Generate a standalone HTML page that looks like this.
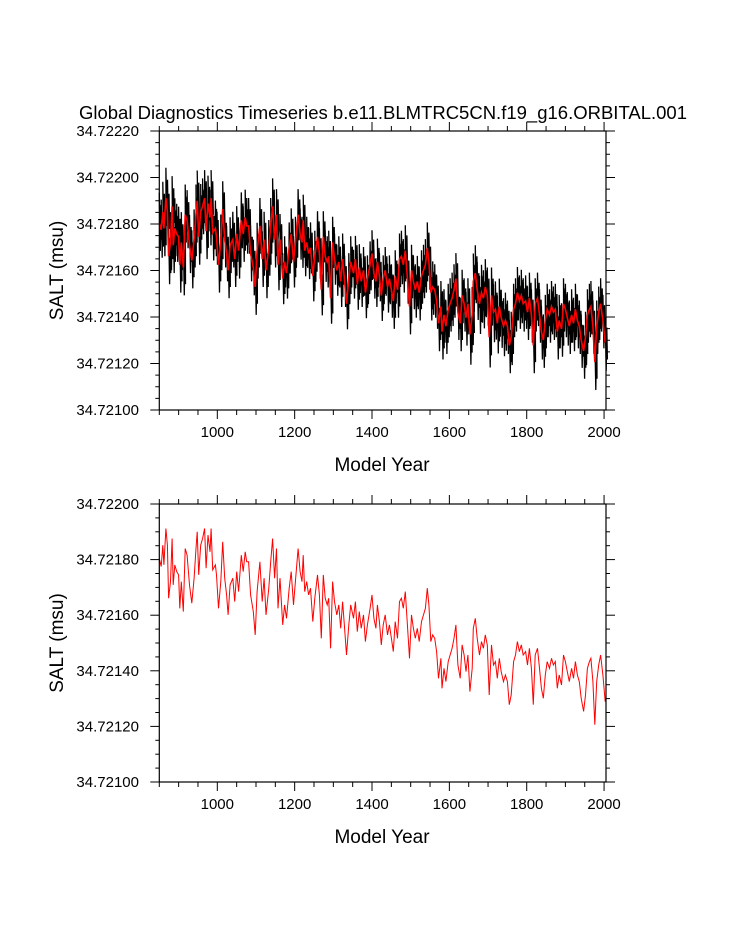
<!DOCTYPE html>
<html><head><meta charset="utf-8"><style>
html,body{margin:0;padding:0;background:#fff;}
svg{display:block;font-family:"Liberation Sans",Arial,sans-serif;}
</style></head><body>
<svg id="chart" width="733" height="945" viewBox="0 0 733 945" xmlns="http://www.w3.org/2000/svg">
<text x="383" y="119" font-size="18.5" text-anchor="middle">Global Diagnostics Timeseries b.e11.BLMTRC5CN.f19_g16.ORBITAL.001</text>
<g id="top"></g>
<g id="bot"></g>
</svg>
<script>
// Data: model years and smoothed SALT (units of 1e-5 msu above 34.72000)
const years = [850,855,859,862,867,871,874,879,883,886,890,895,900,903,907,912,917,922,928,934,940,945,948,952,957,962,967,971,976,981,984,988,995,998,1003,1009,1014,1019,1024,1028,1033,1040,1045,1050,1055,1062,1067,1072,1076,1081,1086,1093,1098,1103,1110,1116,1121,1126,1133,1138,1143,1148,1153,1157,1162,1169,1174,1179,1186,1191,1197,1202,1209,1214,1219,1222,1226,1231,1236,1241,1247,1252,1259,1264,1269,1274,1279,1284,1288,1293,1298,1303,1309,1314,1319,1324,1329,1334,1340,1345,1352,1357,1362,1367,1372,1378,1383,1388,1395,1400,1405,1410,1414,1419,1424,1429,1434,1440,1445,1450,1455,1460,1466,1471,1476,1481,1486,1491,1497,1502,1507,1512,1517,1522,1528,1533,1538,1543,1547,1552,1557,1562,1567,1572,1578,1581,1586,1591,1597,1602,1607,1612,1617,1622,1628,1633,1638,1643,1648,1653,1659,1662,1667,1672,1678,1683,1688,1693,1698,1703,1709,1714,1719,1724,1729,1734,1740,1745,1750,1755,1760,1766,1771,1776,1781,1786,1791,1797,1802,1807,1812,1817,1822,1828,1833,1838,1843,1848,1853,1859,1864,1869,1874,1879,1884,1890,1895,1900,1905,1910,1916,1921,1926,1931,1936,1941,1947,1952,1957,1962,1966,1971,1976,1981,1986,1991,1997,2003];
const salt = [180.4,177.5,185.2,178.1,191.2,185.2,166.1,172.1,187.6,170.9,178.1,175.7,174.5,162.5,172.1,161.3,184,181.6,170.9,164.3,173.3,184,190,174.5,185.2,187.6,191.2,176.9,188.8,182.8,191.2,176.3,178.1,174.5,162.5,172.1,186.4,173.3,167.3,160.1,170.9,173.3,164.9,175.7,168.5,181.6,175.7,182.8,179.2,179.2,167.3,161.3,152.9,168.5,179.2,164.9,173.3,160.1,169.7,179.2,187.6,173.3,184,162.5,173.3,156.5,163.7,158.9,169.7,175.7,163.7,172.1,184,175.7,172.1,181.6,168.5,172.1,167.3,169.7,157.7,166.1,174.5,167.3,151.7,174.5,166.1,163.7,166.1,148.1,172.1,164.9,160.1,163.7,155.3,164.9,155.3,145.7,156.5,163.7,158.9,164.9,154.1,161.3,155.3,160.1,150.5,156.5,162.5,167.3,158.9,155.3,163.7,157.7,149.3,156.5,160.1,152.9,156.5,151.7,146.9,157.7,151.7,164.9,166.1,162.5,168.5,157.7,144.5,160.1,155.3,151.7,155.3,150.5,157.7,160.1,162.5,169.7,163.7,150.5,152.9,151.7,146.9,137.3,144.5,133.7,140.9,136.1,143.3,145.7,148.1,151.7,156.5,142.1,137.3,149.3,145.7,139.7,145.7,132.5,140.9,155.3,158.9,151.7,145.7,150.5,148.1,152.9,149.3,131.3,149.3,142.1,143.3,137.3,144.5,139.7,136.1,138.5,136.1,127.8,131.3,143.3,145.7,150.5,146.9,149.3,145.7,146.9,142.1,148.1,140.9,127.8,145.7,148.1,140.9,133.7,130.1,138.5,143.3,140.9,144.5,142.1,143.3,133.7,138.5,134.9,145.7,143.3,139.7,136.1,140.9,137.3,143.3,138.5,136.1,130.1,125.4,131.3,140.9,143.3,144.5,136.1,120.6,136.1,142.1,145.7,138.5,128.9];
// Spread of annual (black) values around the smoothed curve, per century starting 850
const spreadUp = [13,12,12,11,11,10,11,11,12,11,11,11];
const spreadDown = [12,12,12,11,11,11,12,12,13,12,12,12];
const xTickVals = [1000,1200,1400,1600,1800,2000];
const xTickLabels = ["1000","1200","1400","1600","1800","2000"];
const yTopTicks = [100,120,140,160,180,200,220];
const yTopLabels = ["34.72100","34.72120","34.72140","34.72160","34.72180","34.72200","34.72220"];
const yBotTicks = [100,120,140,160,180,200];
const yBotLabels = ["34.72100","34.72120","34.72140","34.72160","34.72180","34.72200"];

const NS="http://www.w3.org/2000/svg";
function mk(tag,attrs,parent){const e=document.createElementNS(NS,tag);for(const k in attrs)e.setAttribute(k,attrs[k]);parent.appendChild(e);return e;}

function panel(g,top,bottom,ymax,yTicks,yLabels,withBlack,redW){
  const L=159.3,R=606,X0=850,X1=2005;
  const sx=v=>L+(v-X0)*(R-L)/(X1-X0);
  const sy=v=>bottom-(v-100)*(bottom-top)/(ymax-100);
  for(let yr=850;yr<=2000;yr+=50){
    const major=yr%200===0;const x=sx(yr);const len=major?9:5;
    const t1=mk('line',{x1:x,x2:x,y1:bottom,y2:bottom+len,stroke:'#000','stroke-width':1},g);
    
    
    const t2=mk('line',{x1:x,x2:x,y1:top,y2:top-len,stroke:'#000','stroke-width':1},g);
    
    
  }
  xTickVals.forEach((v,i)=>{
    const t=mk('text',{x:sx(v),y:bottom+27,'font-size':15,'text-anchor':'middle'},g);t.textContent=xTickLabels[i];
    
    
  });
  for(let v=100;v<=ymax;v+=5){
    const major=v%20===0;const y=sy(v);const len=major?9:4;
    const a=mk('line',{x1:L,x2:L-len,y1:y,y2:y,stroke:'#000','stroke-width':1},g);
    
    
    const b=mk('line',{x1:R,x2:R+len,y1:y,y2:y,stroke:'#000','stroke-width':1},g);
    
    
  }
  yTicks.forEach((v,i)=>{
    const t=mk('text',{x:139,y:sy(v)+5,'font-size':15,'text-anchor':'end'},g);t.textContent=yLabels[i];
    
    
  });
  if(withBlack){
    let d='';
    years.forEach((yr,i)=>{
      const c=Math.min(11,Math.floor((yr-850)/100));
      const x=sx(yr);
      d+=(i?'L':'M')+x.toFixed(1)+','+sy(salt[i]+spreadUp[c]).toFixed(1);
      d+='L'+(x+1).toFixed(1)+','+sy(salt[i]-spreadDown[c]).toFixed(1);
      d+='L'+(x+1.6).toFixed(1)+','+sy(salt[i]+spreadUp[c]*0.6).toFixed(1);
      d+='L'+(x+2.2).toFixed(1)+','+sy(salt[i]-spreadDown[c]*0.6).toFixed(1);
    });
    const p=mk('path',{d:d,fill:'none',stroke:'#000','stroke-width':1.3},g);
    
    
  }
  let d='';years.forEach((yr,i)=>{d+=(i?'L':'M')+sx(yr).toFixed(1)+','+sy(salt[i]).toFixed(1);});
  const r=mk('path',{d:d,fill:'none',stroke:'#ff0000','stroke-width':redW},g);
  
  
  const f=mk('rect',{x:L,y:top,width:R-L,height:bottom-top,fill:'none',stroke:'#000','stroke-width':1.2},g);
  
  
  const xl=mk('text',{x:382,y:bottom+61,'font-size':19,'text-anchor':'middle'},g);xl.textContent='Model Year';
  
  
  const cy=(top+bottom)/2;
  const yl=mk('text',{x:63,y:cy,'font-size':19,'text-anchor':'middle',transform:'rotate(-90 63 '+cy+')'},g);yl.textContent='SALT (msu)';
  
  
}
panel(document.getElementById('top'),131,410,220,yTopTicks,yTopLabels,true,1.6);
panel(document.getElementById('bot'),504,782,200,yBotTicks,yBotLabels,false,1);
</script>
</body></html>
